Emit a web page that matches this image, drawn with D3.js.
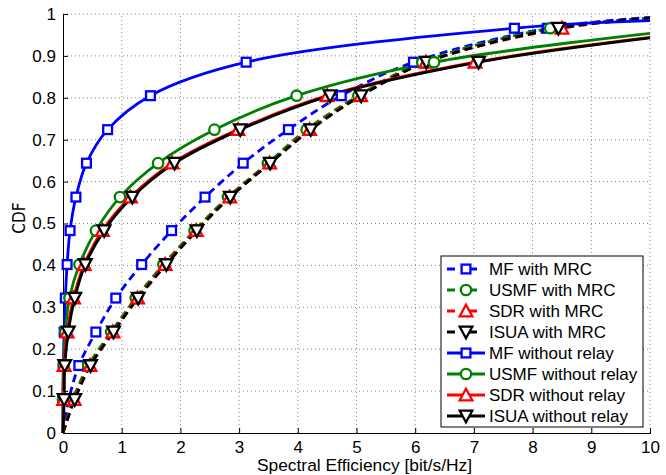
<!DOCTYPE html>
<html><head><meta charset="utf-8">
<script src="https://cdn.jsdelivr.net/npm/d3@7"></script>
<style>body{margin:0;background:#fff}svg{display:block}text{font-family:"Liberation Sans",Arial,Helvetica,sans-serif}</style>
</head><body><svg id="c" width="666" height="475"></svg>
<script>
// CDF levels at which markers are placed
const cdfLevels = [0.08,0.161,0.241,0.322,0.402,0.483,0.563,0.644,0.724,0.805,0.885,0.966];
// x (spectral efficiency) at each CDF level, null = beyond axis
const mfMrc   = [0.10,0.27,0.56,0.90,1.34,1.85,2.42,3.07,3.84,4.74,5.97,8.25];
const usmfMrc = [0.17,0.43,0.82,1.24,1.71,2.24,2.81,3.49,4.15,5.03,6.12,8.30];
const sdrMrc  = [0.19,0.46,0.85,1.27,1.74,2.27,2.84,3.52,4.20,5.07,6.18,8.50];
const isuaMrc = [0.20,0.47,0.86,1.28,1.76,2.28,2.85,3.53,4.22,5.08,6.19,8.44];
const mfNo    = [0.00,0.005,0.02,0.04,0.07,0.12,0.22,0.40,0.76,1.49,3.12,7.69];
const usmfNo  = [0.00,0.01,0.04,0.11,0.28,0.56,0.97,1.62,2.58,3.98,6.32,null];
const sdrNo   = [0.01,0.02,0.07,0.18,0.36,0.67,1.15,1.86,2.98,4.50,7.02,null];
const isuaNo  = [0.02,0.03,0.09,0.20,0.38,0.70,1.18,1.90,3.02,4.55,7.08,null];
// CDF value at x = 10
const cdfAtMax = [0.992,0.990,0.990,0.990,0.984,0.954,0.944,0.943];
const seriesNames = ["MF with MRC","USMF with MRC","SDR with MRC","ISUA with MRC",
  "MF without relay","USMF without relay","SDR without relay","ISUA without relay"];
const seriesX = [mfMrc,usmfMrc,sdrMrc,isuaMrc,mfNo,usmfNo,sdrNo,isuaNo];
const xTicks = [0,1,2,3,4,5,6,7,8,9,10];
const yTicks = [0,0.1,0.2,0.3,0.4,0.5,0.6,0.7,0.8,0.9,1];

const colors = ["#0000ff","#008000","#ff0000","#000000","#0000ff","#008000","#ff0000","#000000"];
const shapes = ["square","circle","up","down","square","circle","up","down"];
const dashed = [true,true,true,true,false,false,false,false];

const svg = d3.select("#c");
const L=63,R=650,T=14,B=433;
const x = d3.scaleLinear().domain([0,10]).range([L,R]);
const y = d3.scaleLinear().domain([0,1]).range([B,T]);

// grid
const g = svg.append("g");
xTicks.filter(d=>d>0).forEach(d=>g.append("line").attr("x1",x(d)).attr("x2",x(d)).attr("y1",y(0)).attr("y2",y(1))
  .attr("stroke","#888").attr("stroke-width",1).attr("stroke-dasharray","1,3"));
yTicks.filter(d=>d>0).forEach(d=>g.append("line").attr("x1",x(0)).attr("x2",x(10)).attr("y1",y(d)).attr("y2",y(d))
  .attr("stroke","#888").attr("stroke-width",1).attr("stroke-dasharray","1,3"));

// axes
const fmt = d=> d===0?"0":d===1?"1":d3.format(".1f")(d);
const xa = svg.append("g").attr("transform",`translate(0,${B})`)
  .call(d3.axisBottom(x).tickValues(xTicks).tickSize(-5).tickPadding(8).tickFormat(d3.format("d")));
const ya = svg.append("g").attr("transform",`translate(${L},0)`)
  .call(d3.axisLeft(y).tickValues(yTicks).tickSize(-5).tickPadding(7).tickFormat(fmt));
[xa,ya].forEach(a=>{a.select(".domain").attr("stroke","#000").attr("stroke-width",1);
  a.selectAll(".tick line").attr("stroke","#000");
  a.selectAll("text").attr("font-size",17).attr("fill","#000").style("font-family","Liberation Sans, Arial, sans-serif");});
xa.selectAll("text").attr("dy","0.68em");

svg.append("text").attr("x",(L+R)/2+8).attr("y",471).attr("text-anchor","middle").attr("font-size",17.4).text("Spectral Efficiency [bit/s/Hz]");
svg.append("text").attr("transform",`translate(25,218) rotate(-90)`).attr("text-anchor","middle").attr("font-size",17)
  .style("font-family","'Liberation Sans Narrow','DejaVu Sans Condensed',Arial,sans-serif").text("CDF");

function marker(sel, shape, color){
  if(shape==="square") sel.append("rect").attr("x",-4.4).attr("y",-4.4).attr("width",8.8).attr("height",8.8);
  else if(shape==="circle") sel.append("circle").attr("r",5.2);
  else if(shape==="up") sel.append("path").attr("d","M0,-6.3L6.3,5.3L-6.3,5.3Z");
  else sel.append("path").attr("d","M0,6.3L6.3,-5.3L-6.3,-5.3Z");
  sel.selectAll("*").attr("fill","#fff").attr("stroke",color).attr("stroke-width",2.3);
}

const line = d3.line().x(d=>x(d[0])).y(d=>y(d[1])).curve(d3.curveCatmullRom.alpha(0.5));
const plot = svg.append("g");
seriesX.forEach((xs,i)=>{
  const pts=[[0,0]];
  xs.forEach((v,k)=>{ if(v!==null) pts.push([v,cdfLevels[k]]); });
  pts.push([10,cdfAtMax[i]]);
  plot.append("path").attr("d",line(pts)).attr("fill","none").attr("stroke",colors[i])
    .attr("stroke-width",2.8).attr("stroke-dasharray",dashed[i]?"8,5":null);
});
seriesX.forEach((xs,i)=>{
  xs.forEach((v,k)=>{ if(v===null) return;
    const m = plot.append("g").attr("transform",`translate(${x(v)},${y(cdfLevels[k])})`);
    marker(m, shapes[i], colors[i]);
  });
});

// legend
const lg = svg.append("g");
lg.append("rect").attr("x",441).attr("y",256).attr("width",202).attr("height",171).attr("fill","#fff").attr("stroke","#000").attr("stroke-width",1);
seriesNames.forEach((n,i)=>{
  const yy = 269 + i*21;
  lg.append("line").attr("x1",447).attr("x2",485).attr("y1",yy).attr("y2",yy).attr("stroke",colors[i])
    .attr("stroke-width",2.8).attr("stroke-dasharray",dashed[i]?"8,14":null);
  const m = lg.append("g").attr("transform",`translate(466,${yy})`);
  marker(m, shapes[i], colors[i]);
  lg.append("text").attr("x",489).attr("y",yy).attr("dy","0.36em").attr("font-size",17).text(n);
});
</script></body></html>
